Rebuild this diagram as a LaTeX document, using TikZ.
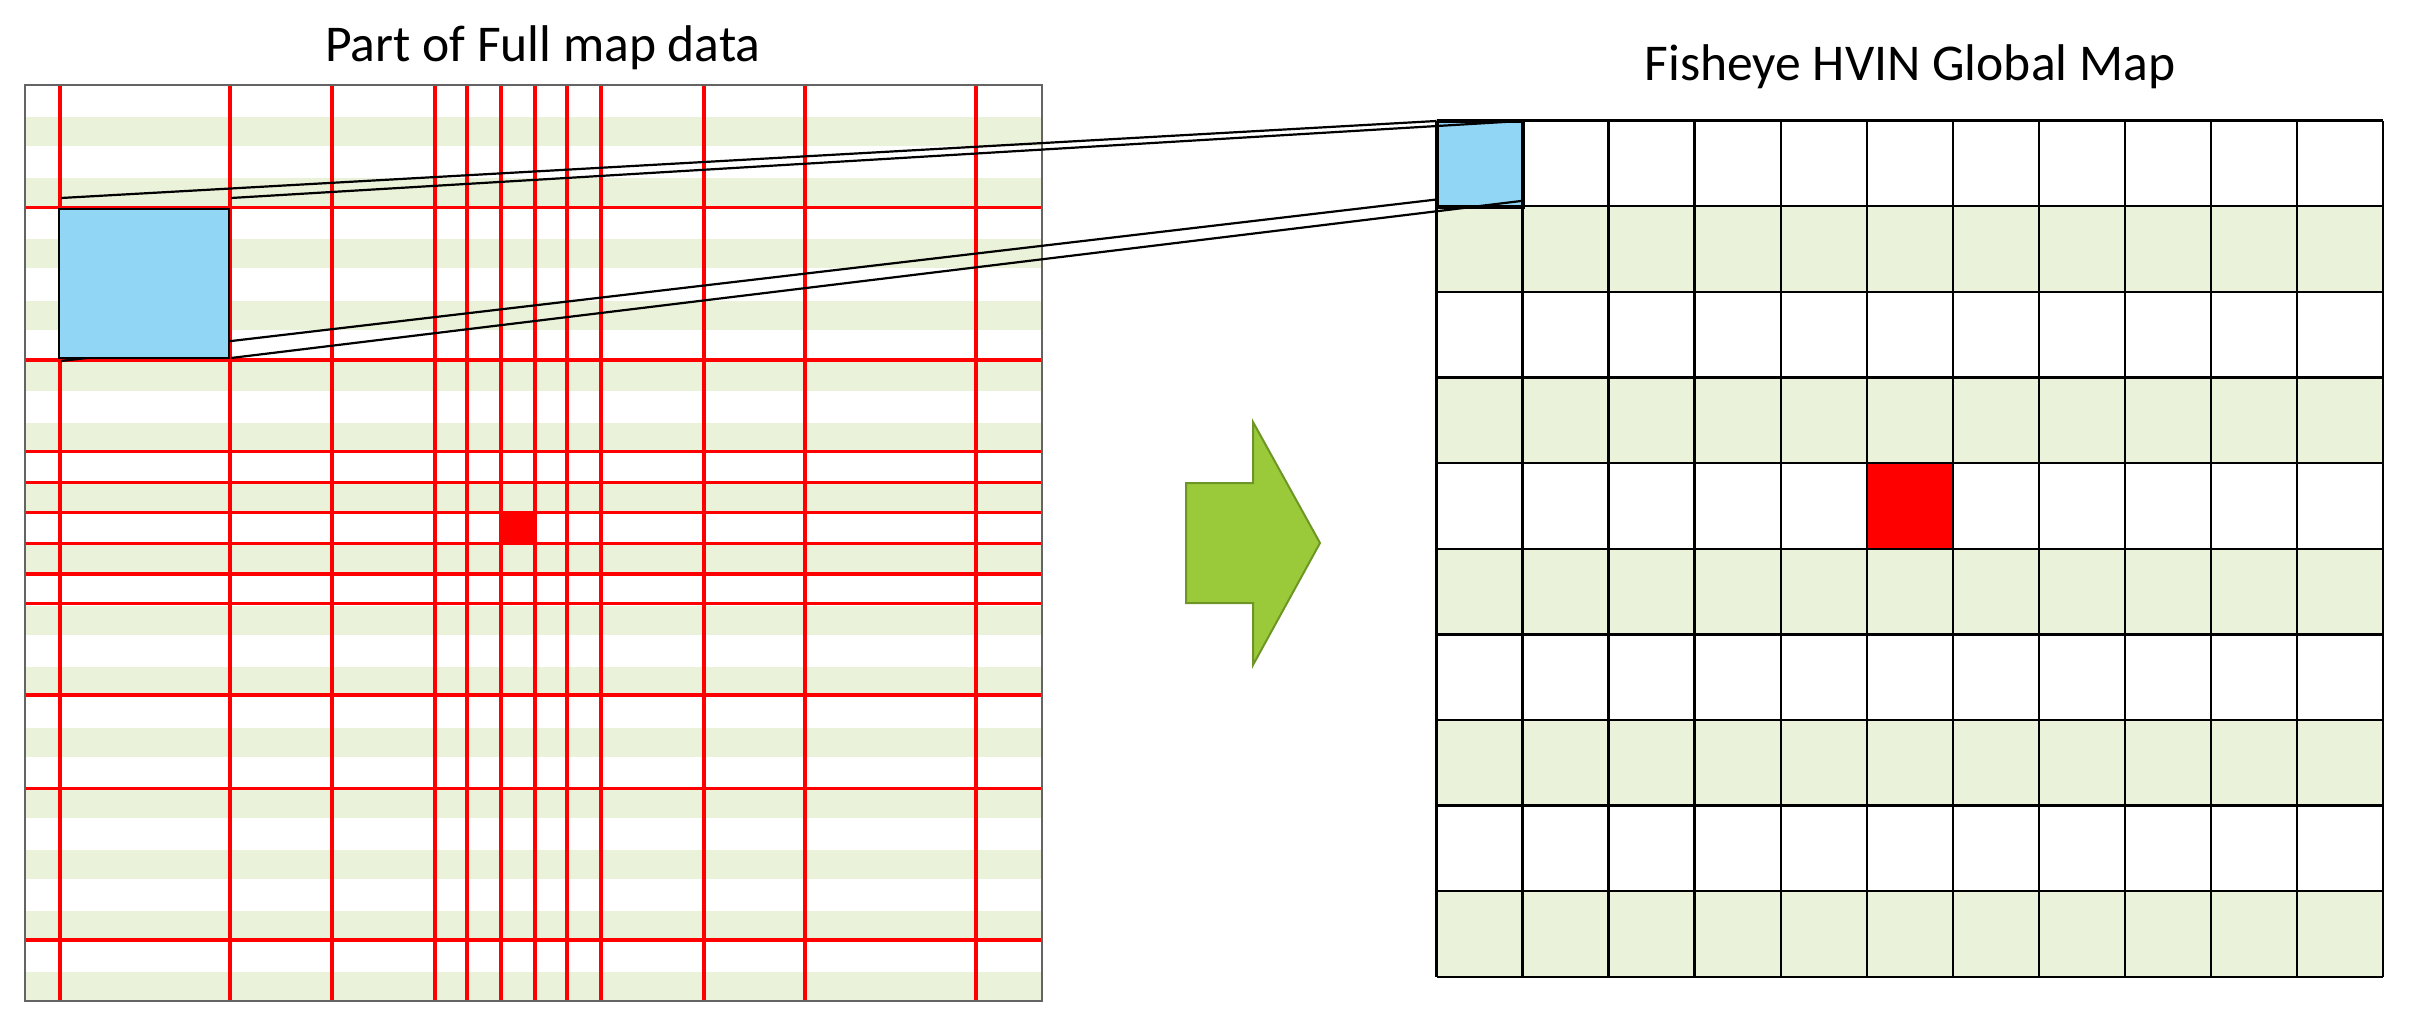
\documentclass[tikz,border=0pt]{standalone}
\usepackage{fontspec}
\setmainfont{Carlito}
\definecolor{stripe}{RGB}{234,242,217}
\definecolor{skyb}{RGB}{146,214,246}
\definecolor{framegray}{RGB}{100,100,100}
\definecolor{arrowfill}{RGB}{154,202,58}
\definecolor{arrowline}{RGB}{110,150,38}
\begin{document}
\begin{tikzpicture}[x=0.25pt,y=-0.25pt,
  redline/.style={draw=red,line width=0.8pt},
  gridline/.style={draw=black,line width=0.6pt},
  linkline/.style={draw=black,line width=0.55pt},
  titletext/.style={font=\fontsize{12.9}{15}\selectfont,inner sep=0pt},
  bluebox/.style={draw=black,fill=skyb,line width=0.6pt,inner sep=0pt,anchor=north west}]
\useasboundingbox (0,0) rectangle (2409,1027);
% ---------- titles
\node[titletext,anchor=base] (lefttitle) at (543,62) {Part of Full map data};
\node[titletext,anchor=base] (righttitle) at (1910,81) {Fisheye HVIN Global Map};
% ---------- left panel: stripes
\foreach \k in {0,...,14}
  \fill[stripe] (25,{117.3+61.07*\k}) rectangle (1042,{146.3+61.07*\k});
% red grid lines
\foreach \x in {60,230,332,435,467,501,535,567,601,704,805,976}
  \draw[redline] (\x,85) -- (\x,1001);
\foreach \y in {207.7,360,451.7,482.3,512.3,543.3,574,603.3,695,788.3,940}
  \draw[redline] (24,\y) -- (1041,\y);
% frame
\draw[framegray,line width=0.55pt] (25,85) rectangle (1042,1001);
% red cell (left)
\fill[red] (501,512.3) rectangle (535,543.3);
% ---------- right panel
\foreach \r in {1,3,5,7,9}
  \fill[stripe] (1436.5,{120.7+85.6*\r}) rectangle (2383,{120.7+85.6*(\r+1)});
\fill[red] (1866.75,463.1) rectangle (1952.8,548.7);
\node[bluebox,minimum width=21.5pt,minimum height=21.4pt] (dstcell) at (1436.5,120.7) {};
\foreach \r in {0,...,10}
  \draw[gridline] (1436.5,{120.7+85.6*\r}) -- (2383,{120.7+85.6*\r});
\foreach \c in {0,...,11}
  \draw[gridline] ({1436.5+86.05*\c},120.7) -- ({1436.5+86.05*\c},976.7);
% ---------- arrow
\draw[arrowline,fill=arrowfill,line width=0.5pt,line join=miter]
  (1186,483) -- (1253,483) -- (1253,422) -- (1320,543) -- (1253,665) -- (1253,603) -- (1186,603) -- cycle;
% ---------- connecting lines
\coordinate (a1) at (61,198);
\coordinate (a2) at (231,198);
\coordinate (a3) at (61,361);
\coordinate (a4) at (231,358);
\coordinate (b1) at (1436.5,121);
\coordinate (b2) at (1521,121);
\coordinate (b3) at (1436.5,199.5);
\coordinate (b4) at (1521,201);
\draw[linkline] (a1) -- (b1);
\draw[linkline] (a2) -- (b2);
\draw[linkline] (a3) -- (b3);
\draw[linkline] (a4) -- (b4);
% source square (left)
\node[bluebox,minimum width=42.6pt,minimum height=37.25pt] (srcsq) at (57.5,208) {};
\end{tikzpicture}
\end{document}
